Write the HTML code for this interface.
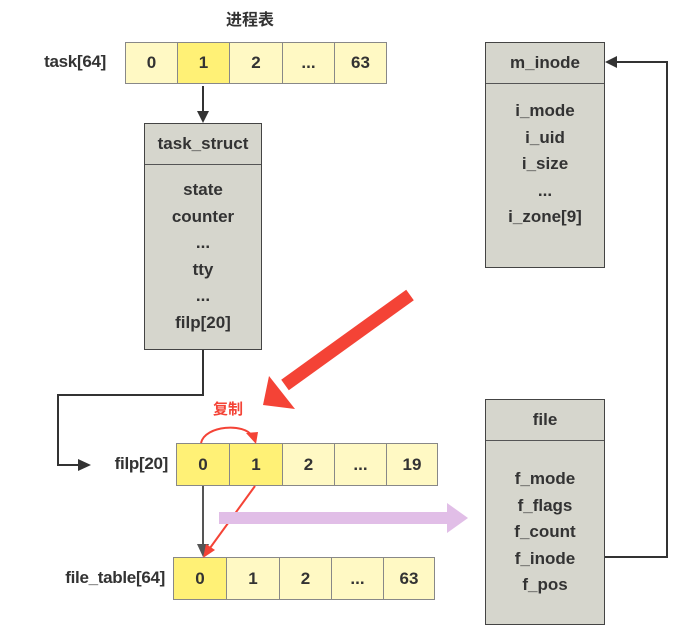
<!DOCTYPE html>
<html><head><meta charset="utf-8"><style>
body{margin:0;width:684px;height:641px;background:#fff;position:relative;overflow:hidden;font-family:"Liberation Sans","Noto Sans CJK SC",sans-serif;font-weight:bold;color:#333}
.a{position:absolute}
.cell{position:absolute;height:42px;border:1px solid #888;box-sizing:border-box;background:#fff9c4;display:flex;align-items:center;justify-content:center;font-size:17px}
.d{background:#fff176}
.box{position:absolute;background:#d6d6cd;border:1px solid #444;box-sizing:border-box;text-align:center;font-size:17px}
.hd{border-bottom:1px solid #555;height:40px;line-height:40px}
.lbl{position:absolute;font-size:17px;text-align:right;letter-spacing:-0.3px}
</style></head><body>
<div class="a" style="left:226px;top:6px;font-size:16px">进程表</div>
<div class="lbl" style="left:10px;top:52px;width:96px">task[64]</div>
<div class="cell" style="left:125px;top:42px;width:53px">0</div>
<div class="cell d" style="left:177px;top:42px;width:53px">1</div>
<div class="cell" style="left:229px;top:42px;width:54px">2</div>
<div class="cell" style="left:282px;top:42px;width:53px">...</div>
<div class="cell" style="left:334px;top:42px;width:53px">63</div>

<div class="box" style="left:144px;top:123px;width:118px;height:227px"><div class="hd">task_struct</div><div style="line-height:26.5px;padding-top:12px">state<br>counter<br>...<br>tty<br>...<br>filp[20]</div></div>
<div class="box" style="left:485px;top:42px;width:120px;height:226px"><div class="hd">m_inode</div><div style="line-height:26.5px;padding-top:14px">i_mode<br>i_uid<br>i_size<br>...<br>i_zone[9]</div></div>
<div class="box" style="left:485px;top:399px;width:120px;height:226px"><div class="hd">file</div><div style="line-height:26.5px;padding-top:25px">f_mode<br>f_flags<br>f_count<br>f_inode<br>f_pos</div></div>

<div class="lbl" style="left:80px;top:454px;width:88px">filp[20]</div>
<div class="cell d" style="left:176px;top:443px;width:54px;height:43px">0</div>
<div class="cell d" style="left:229px;top:443px;width:54px;height:43px">1</div>
<div class="cell" style="left:282px;top:443px;width:53px;height:43px">2</div>
<div class="cell" style="left:334px;top:443px;width:53px;height:43px">...</div>
<div class="cell" style="left:386px;top:443px;width:52px;height:43px">19</div>

<div class="lbl" style="left:20px;top:568px;width:145px">file_table[64]</div>
<div class="cell d" style="left:173px;top:557px;width:54px;height:43px">0</div>
<div class="cell" style="left:226px;top:557px;width:54px;height:43px">1</div>
<div class="cell" style="left:279px;top:557px;width:53px;height:43px">2</div>
<div class="cell" style="left:331px;top:557px;width:53px;height:43px">...</div>
<div class="cell" style="left:383px;top:557px;width:52px;height:43px">63</div>

<div class="a" style="left:213px;top:398px;color:#f44336;font-size:15px">复制</div>

<svg class="a" style="left:0;top:0" width="684" height="641">
<g fill="#333" stroke="#333" stroke-width="2">
<line x1="203" y1="86" x2="203" y2="112"/><polygon points="197,111 209,111 203,123" stroke="none"/>
<polyline fill="none" points="203,350 203,395 58,395 58,465 80,465"/><polygon points="78,459 78,471 91,465" stroke="none"/>
<polyline fill="none" points="605,557 667,557 667,62 616,62"/><polygon points="617,56 617,68 605,62" stroke="none"/>
</g>
<line x1="203" y1="486" x2="203" y2="545" stroke="#555" stroke-width="2"/><polygon points="197,544 209,544 203,557" fill="#555"/>
<line x1="255" y1="486" x2="210" y2="548" stroke="#f44336" stroke-width="2"/><polygon points="203,558 206,544 215,550" fill="#f44336"/>
<path d="M201,443 C205,425 245,423 252,436" fill="none" stroke="#f44336" stroke-width="2"/><polygon points="246,433 258,432 256,444" fill="#f44336"/>
<line x1="410" y1="295" x2="285" y2="385" stroke="#f44336" stroke-width="13"/><polygon points="263,405 269,376 295,409" fill="#f44336"/>
<rect x="219" y="512" width="230" height="12" fill="#e1bee7"/><polygon points="447,503 468,518 447,533" fill="#e1bee7"/>
</svg>
</body></html>
